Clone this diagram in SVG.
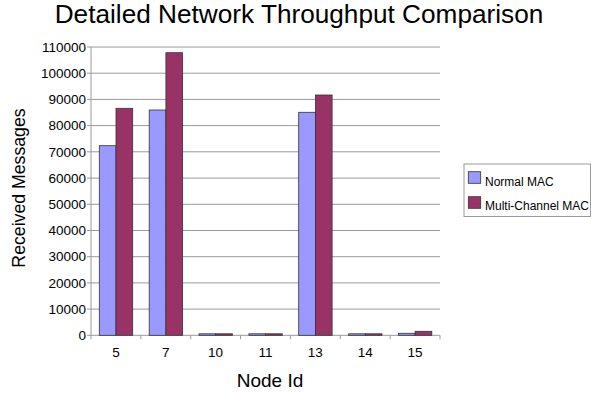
<svg xmlns="http://www.w3.org/2000/svg" width="591" height="393" viewBox="0 0 591 393">
  <style>
    text { font-family: "Liberation Sans", Arial, sans-serif; fill: #000; }
    .grid { stroke: #9a9a9a; stroke-width: 1; }
    .axis { stroke: #9a9a9a; stroke-width: 1; fill: none; }
    .ylab { font-size: 13.5px; text-anchor: end; }
    .xlab { font-size: 13.5px; text-anchor: middle; }
    .normal { fill: #9999ff; stroke: #333; stroke-width: 0.8; }
    .multi { fill: #993366; stroke: #333; stroke-width: 0.8; }
    .leg { font-size: 12px; }
  </style>
  <rect width="591" height="393" fill="#fff"/>

  <text x="299" y="23" font-size="26.2" text-anchor="middle">Detailed Network Throughput Comparison</text>

  <!-- gridlines, 10000 per step, 26.21px apart -->
  <g id="grid">
    <line class="grid" x1="87" y1="309.1" x2="440" y2="309.1"/>
    <line class="grid" x1="87" y1="282.9" x2="440" y2="282.9"/>
    <line class="grid" x1="87" y1="256.7" x2="440" y2="256.7"/>
    <line class="grid" x1="87" y1="230.5" x2="440" y2="230.5"/>
    <line class="grid" x1="87" y1="204.3" x2="440" y2="204.3"/>
    <line class="grid" x1="87" y1="178.1" x2="440" y2="178.1"/>
    <line class="grid" x1="87" y1="151.8" x2="440" y2="151.8"/>
    <line class="grid" x1="87" y1="125.6" x2="440" y2="125.6"/>
    <line class="grid" x1="87" y1="99.4" x2="440" y2="99.4"/>
    <line class="grid" x1="87" y1="73.2" x2="440" y2="73.2"/>
    <line class="grid" x1="87" y1="47" x2="440" y2="47"/>
  </g>

  <!-- axes with category ticks -->
  <g id="axes">
    <line class="axis" x1="91" y1="47" x2="91" y2="335.3"/>
    <line class="axis" x1="87" y1="335.3" x2="440" y2="335.3"/>
    <path class="axis" d="M91 335.3v4 M140.9 335.3v4 M190.7 335.3v4 M240.6 335.3v4 M290.4 335.3v4 M340.3 335.3v4 M390.1 335.3v4 M440 335.3v4"/>
  </g>

  <g id="y-labels">
    <text class="ylab" x="86" y="340">0</text>
    <text class="ylab" x="86" y="313.8">10000</text>
    <text class="ylab" x="86" y="287.6">20000</text>
    <text class="ylab" x="86" y="261.4">30000</text>
    <text class="ylab" x="86" y="235.2">40000</text>
    <text class="ylab" x="86" y="209">50000</text>
    <text class="ylab" x="86" y="182.8">60000</text>
    <text class="ylab" x="86" y="156.5">70000</text>
    <text class="ylab" x="86" y="130.3">80000</text>
    <text class="ylab" x="86" y="104.1">90000</text>
    <text class="ylab" x="86" y="77.9">100000</text>
    <text class="ylab" x="86" y="51.7">110000</text>
  </g>

  <g id="x-labels">
    <text class="xlab" x="116" y="357">5</text>
    <text class="xlab" x="165.8" y="357">7</text>
    <text class="xlab" x="215.6" y="357">10</text>
    <text class="xlab" x="265.5" y="357">11</text>
    <text class="xlab" x="315.3" y="357">13</text>
    <text class="xlab" x="365.2" y="357">14</text>
    <text class="xlab" x="415" y="357">15</text>
  </g>

  <!-- bars: Normal MAC then Multi-Channel MAC per node -->
  <g id="bars">
    <rect class="normal" x="99.3" y="145.7" width="16.7" height="189.6"/>
    <rect class="multi" x="116" y="108.3" width="16.7" height="227"/>
    <rect class="normal" x="149.2" y="110" width="16.7" height="225.3"/>
    <rect class="multi" x="165.9" y="52.7" width="16.7" height="282.6"/>
    <rect class="normal" x="199" y="333.8" width="16.7" height="1.5"/>
    <rect class="multi" x="215.7" y="333.8" width="16.7" height="1.5"/>
    <rect class="normal" x="248.9" y="333.8" width="16.7" height="1.5"/>
    <rect class="multi" x="265.6" y="333.8" width="16.7" height="1.5"/>
    <rect class="normal" x="298.7" y="112.3" width="16.7" height="223"/>
    <rect class="multi" x="315.4" y="95" width="16.7" height="240.3"/>
    <rect class="normal" x="348.6" y="333.8" width="16.7" height="1.5"/>
    <rect class="multi" x="365.3" y="333.8" width="16.7" height="1.5"/>
    <rect class="normal" x="398.4" y="333.3" width="16.7" height="2"/>
    <rect class="multi" x="415.1" y="331.3" width="16.7" height="4"/>
  </g>

  <text x="25" y="188" font-size="17.7" text-anchor="middle" transform="rotate(-90 25 188)">Received Messages</text>
  <text x="270" y="387" font-size="19" text-anchor="middle">Node Id</text>

  <g id="legend">
    <rect x="464" y="164" width="126.5" height="52.5" fill="#fff" stroke="#9a9a9a"/>
    <rect class="normal" x="468.3" y="171.7" width="12.4" height="11.6"/>
    <text class="leg" x="485" y="186">Normal MAC</text>
    <rect class="multi" x="468.3" y="196.7" width="12.4" height="11.6"/>
    <text class="leg" x="485" y="210">Multi-Channel MAC</text>
  </g>
</svg>
